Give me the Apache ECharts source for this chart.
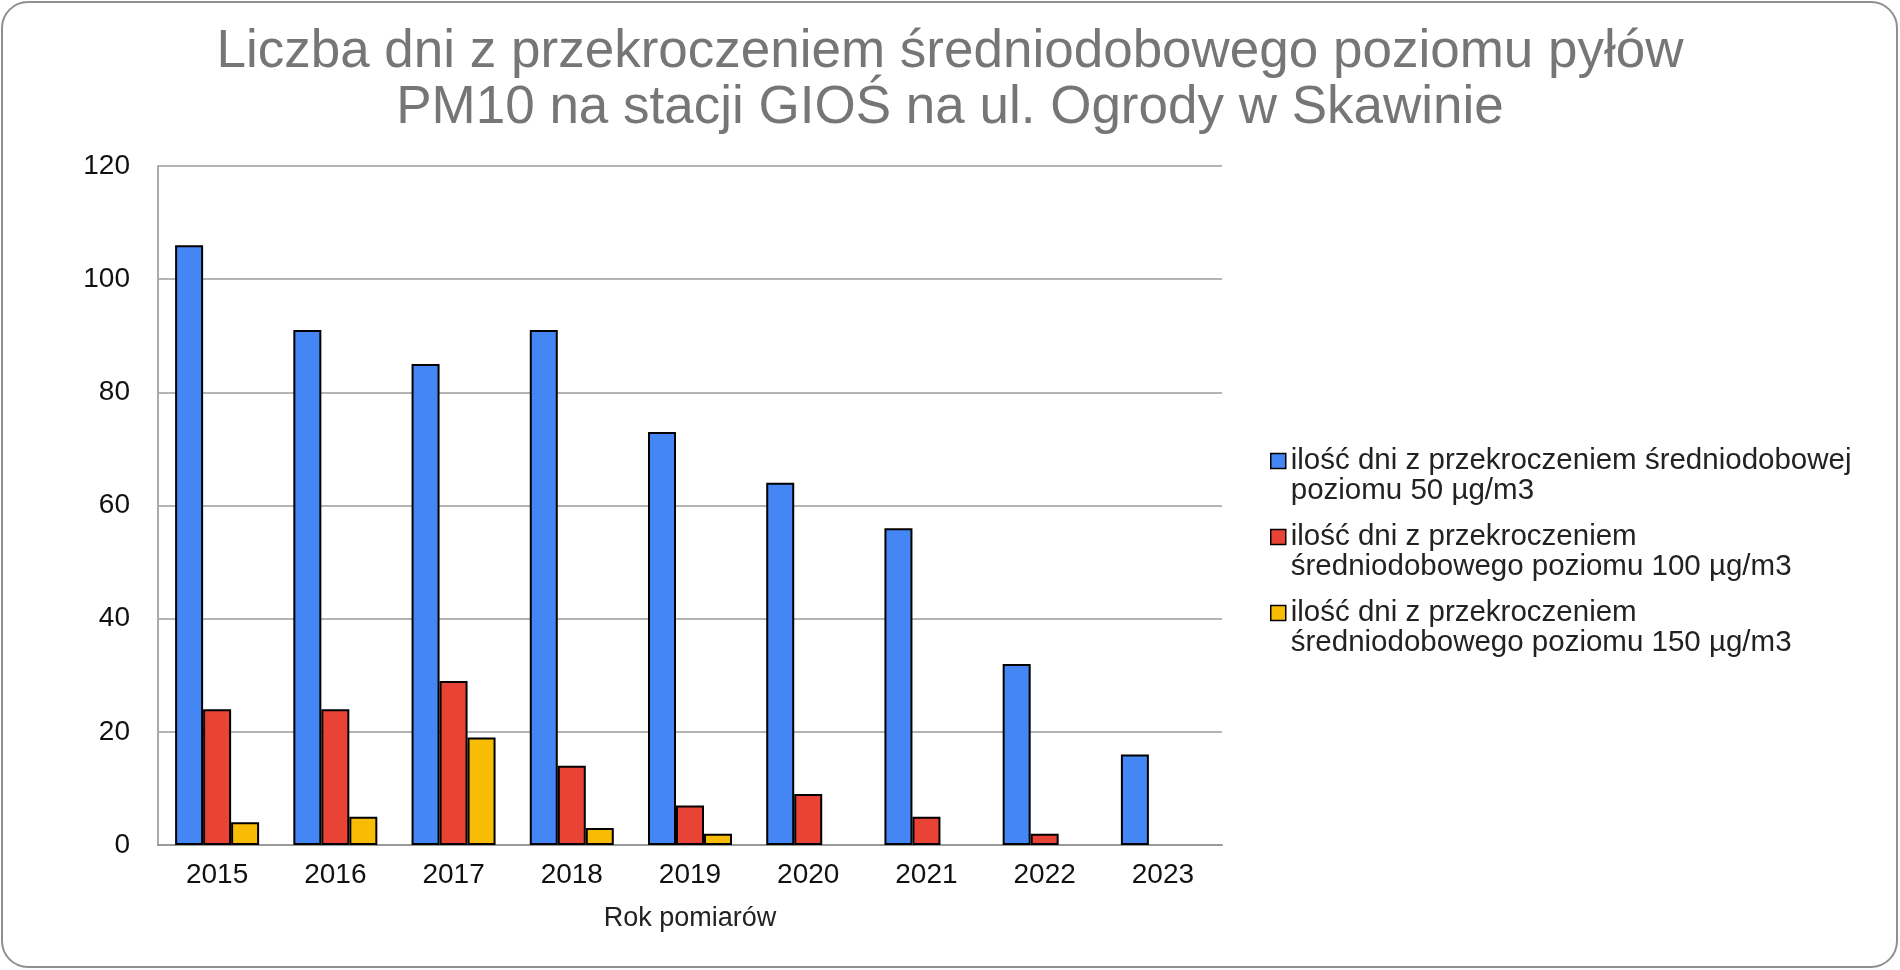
<!DOCTYPE html>
<html>
<head>
<meta charset="utf-8">
<script src="https://cdn.jsdelivr.net/npm/echarts@6/dist/echarts.min.js"></script>
<style>
  body { margin: 0; background: #fff; }
  #chart { width: 1900px; height: 970px; }
</style>
</head>
<body>
<div id="chart"></div>
<script>
var years = ['2015', '2016', '2017', '2018', '2019', '2020', '2021', '2022', '2023'];
var days50 = [106, 91, 85, 91, 73, 64, 56, 32, 16];
var days100 = [24, 24, 29, 14, 7, 9, 5, 2, 0];
var days150 = [4, 5, 19, 3, 2, 0, 0, 0, 0];
var seriesNames = [
    'ilość dni z przekroczeniem średniodobowej\npoziomu 50 µg/m3',
    'ilość dni z przekroczeniem\nśredniodobowego poziomu 100 µg/m3',
    'ilość dni z przekroczeniem\nśredniodobowego poziomu 150 µg/m3'
];
var colors = ['#4486f4', '#e94335', '#f9bc04'];

var chart = echarts.init(document.getElementById('chart'));

function bar(i, values) {
    return {
        name: seriesNames[i],
        type: 'bar',
        // zero days -> no visible bar (no border line on the axis)
        data: values.map(function (v) {
            return v === 0 ? { value: v, itemStyle: { borderWidth: 0 } } : v;
        }),
        barWidth: 28,
        barGap: '0%',
        itemStyle: { color: colors[i], borderColor: '#000', borderWidth: 2 }
    };
}

var option = {
    animation: false,
    backgroundColor: '#fff',
    textStyle: { fontFamily: 'Liberation Sans, Arial, sans-serif' },
    graphic: [{
        type: 'rect',
        shape: { x: 2, y: 2, width: 1895, height: 965, r: 26 },
        style: { fill: 'none', stroke: '#8f8f8f', lineWidth: 2 },
        silent: true
    }],
    title: {
        text: 'Liczba dni z przekroczeniem średniodobowego poziomu pyłów\nPM10 na stacji GIOŚ na ul. Ogrody w Skawinie',
        left: 'center',
        top: 19,
        textStyle: {
            fontSize: 53,
            fontWeight: 'normal',
            color: '#767676',
            lineHeight: 56,
            align: 'center'
        }
    },
    legend: {
        orient: 'vertical',
        left: 1270,
        top: 416,
        padding: 0,
        itemWidth: 15,
        itemHeight: 15,
        itemGap: -14,
        icon: 'rect',
        selectedMode: false,
        itemStyle: { borderColor: '#000', borderWidth: 1.5 },
        // empty first line so the marker sits next to the first text line
        formatter: function (name) { return '\n' + name; },
        textStyle: {
            fontSize: 29.5,
            color: '#222',
            lineHeight: 30
        },
        data: seriesNames
    },
    grid: { left: 158, right: 678, top: 166, bottom: 125 },
    xAxis: {
        type: 'category',
        data: years,
        name: 'Rok pomiarów',
        nameLocation: 'middle',
        nameGap: 60,
        nameTextStyle: { fontSize: 27, color: '#222' },
        axisLine: { lineStyle: { color: '#999', width: 2 } },
        axisTick: { show: false },
        axisLabel: { fontSize: 28, color: '#111', margin: 16 }
    },
    yAxis: {
        type: 'value',
        min: 0,
        max: 120,
        interval: 20,
        axisLine: { show: true, lineStyle: { color: '#aaa', width: 2 } },
        axisTick: { show: false },
        axisLabel: { fontSize: 28, color: '#111', margin: 28 },
        splitLine: { lineStyle: { color: '#b4b4b4', width: 2 } }
    },
    series: [bar(0, days50), bar(1, days100), bar(2, days150)]
};

chart.setOption(option);
</script>
</body>
</html>
